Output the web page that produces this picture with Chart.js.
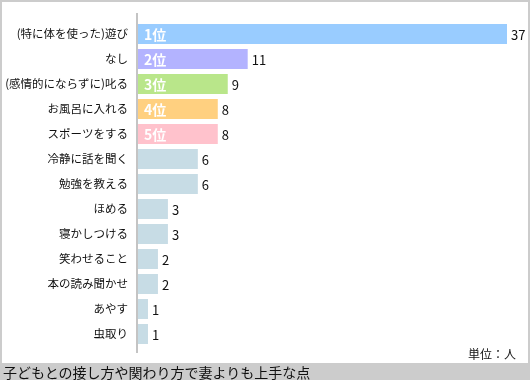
<!DOCTYPE html>
<html lang="ja">
<head>
  <meta charset="UTF-8">
  <title>子どもとの接し方や関わり方で妻よりも上手な点</title>
  <script src="https://cdn.jsdelivr.net/npm/chart.js"></script>
  <style>
    body { margin: 0; padding: 0; background: #fff; font-family: 'Noto Sans CJK JP', sans-serif; }
    .wrap {
      position: relative; width: 530px; height: 380px; box-sizing: border-box;
      border: 2px solid #cccccc; border-bottom: none; overflow: hidden;
    }
    .wrap canvas { position: absolute; left: -2px; top: -2px; }
    .unit { position: absolute; right: 12px; top: 343px; font-size: 12px; color: #111; }
    .foot {
      position: absolute; left: -2px; top: 361px; width: 530px; height: 19px;
      background: #cccccc; font-size: 14px; line-height: 19px; padding-left: 3px; color: #111;
    }
  </style>
</head>
<body>
  <div class="wrap">
    <canvas id="chart" width="530" height="380"></canvas>
    <div class="unit">単位：人</div>
    <div class="foot">子どもとの接し方や関わり方で妻よりも上手な点</div>
  </div>

  <script>
    const categories = ['(特に体を使った)遊び', 'なし', '(感情的にならずに)叱る', 'お風呂に入れる', 'スポーツをする',
      '冷静に話を聞く', '勉強を教える', 'ほめる', '寝かしつける', '笑わせること', '本の読み聞かせ', 'あやす', '虫取り'];
    const counts = [37, 11, 9, 8, 8, 6, 6, 3, 3, 2, 2, 1, 1];
    const ranks = ['1位', '2位', '3位', '4位', '5位'];
    const barColors = ['#99ccff', '#b3b3ff', '#b9e68a', '#ffd080', '#ffc2cc'];
    const otherColor = '#c7dce5';

    const font = "'Noto Sans CJK JP', sans-serif";

    // 縦軸の線・数値・順位ラベル
    const decor = {
      id: 'decor',
      afterDatasetsDraw(chart) {
        const ctx = chart.ctx;
        const meta = chart.getDatasetMeta(0);
        ctx.save();
        ctx.strokeStyle = '#c4c4c4';
        ctx.lineWidth = 2;
        ctx.beginPath();
        ctx.moveTo(137, 13);
        ctx.lineTo(137, 353);
        ctx.stroke();

        ctx.textBaseline = 'middle';
        meta.data.forEach((bar, i) => {
          ctx.fillStyle = '#111';
          ctx.font = '13px ' + font;
          ctx.textAlign = 'left';
          ctx.fillText(counts[i], bar.x + 4, bar.y + 1);
          if (ranks[i]) {
            ctx.fillStyle = '#fff';
            ctx.font = 'bold 14px ' + font;
            ctx.fillText(ranks[i], bar.base + 6, bar.y + 1);
          }
        });
        ctx.restore();
      }
    };

    new Chart(document.getElementById('chart'), {
      type: 'bar',
      data: {
        labels: categories,
        datasets: [{
          data: counts,
          backgroundColor: counts.map((v, i) => barColors[i] || otherColor),
          barPercentage: 1,
          categoryPercentage: 0.8
        }]
      },
      options: {
        indexAxis: 'y',
        responsive: false,
        animation: false,
        layout: { padding: { left: 0, right: 23, top: 21.5, bottom: 33.5 } },
        plugins: { legend: { display: false }, tooltip: { enabled: false } },
        scales: {
          x: { display: false, min: 0, max: 37 },
          y: {
            afterFit(scale) { scale.width = 138; },
            grid: { display: false, drawTicks: false },
            border: { display: false },
            ticks: { color: '#111', padding: 10, font: { size: 11.5, family: font } }
          }
        }
      },
      plugins: [decor]
    });
  </script>
</body>
</html>
